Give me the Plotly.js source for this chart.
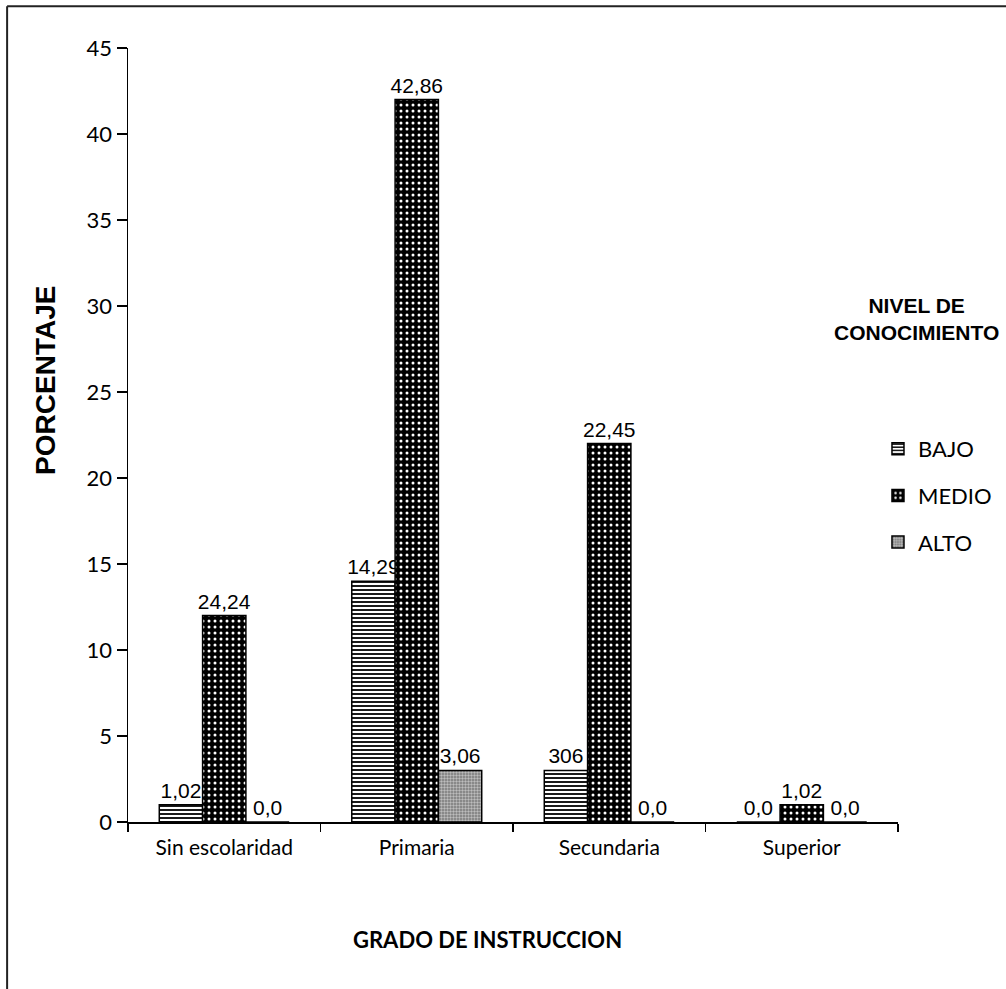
<!DOCTYPE html>
<html>
<head>
<meta charset="utf-8">
<script src="https://cdn.plot.ly/plotly-3.0.1.min.js"></script>
<style>
html,body{margin:0;padding:0;background:#fff;}
#chart{width:1006px;height:989px;}
</style>
</head>
<body>
<div id="chart"></div>
<script>
// Data
const categories = ["Sin escolaridad", "Primaria", "Secundaria", "Superior"];
const seriesNames = ["BAJO", "MEDIO", "ALTO"];
const bajo = [1, 14, 3, 0];
const medio = [12, 42, 22, 1];
const alto = [0, 3, 0, 0];
const bajoLabels = ["1,02", "14,29", "306", "0,0"];
const medioLabels = ["24,24", "42,86", "22,45", "1,02"];
const altoLabels = ["0,0", "3,06", "0,0", "0,0"];
const yTicks = [0, 5, 10, 15, 20, 25, 30, 35, 40, 45];

const labelFont = {family: "Liberation Sans, Arial, sans-serif", size: 21, color: "#000"};

const traces = [
  {
    type: "bar", name: seriesNames[0], x: categories, y: bajo,
    text: bajoLabels, textposition: "outside", textfont: labelFont, constraintext: "none",
    cliponaxis: false, legendgroup: "a",
    marker: {color: "#fff", line: {color: "#000", width: 1.5},
      pattern: {shape: "-", fgcolor: "#000", bgcolor: "#fff", fillmode: "replace", size: 4, solidity: 0.45}}
  },
  {
    type: "bar", name: seriesNames[1], x: categories, y: medio,
    text: medioLabels, textposition: "outside", textfont: labelFont, constraintext: "none",
    cliponaxis: false, legendgroup: "b",
    marker: {color: "#000", line: {color: "#000", width: 1.5},
      pattern: {shape: ".", fgcolor: "#fff", bgcolor: "#000", fillmode: "replace", size: 6, solidity: 0.2}}
  },
  {
    type: "bar", name: seriesNames[2], x: categories, y: alto,
    text: altoLabels, textposition: "outside", textfont: labelFont, constraintext: "none",
    cliponaxis: false, legendgroup: "c",
    marker: {color: "#888", line: {color: "#000", width: 1.5},
      pattern: {shape: ".", fgcolor: "#bdbdbd", bgcolor: "#777", fillmode: "replace", size: 3, solidity: 0.5}}
  }
];

const layout = {
  width: 1006, height: 989,
  margin: {l: 128, r: 108, t: 48, b: 167, autoexpand: false},
  paper_bgcolor: "#fff", plot_bgcolor: "#fff",
  barmode: "group", bargap: 0.325, bargroupgap: 0,
  showlegend: true,
  legend: {
    x: 0.974, xanchor: "left", y: 0.509, yanchor: "top",
    font: {family: "Lato, Open Sans, sans-serif", size: 22, color: "#000"},
    itemwidth: 30, tracegroupgap: 15, bgcolor: "rgba(0,0,0,0)"
  },
  xaxis: {
    type: "category",
    showline: true, linecolor: "#000", linewidth: 1.5,
    ticks: "outside", tickson: "boundaries", ticklen: 8, tickcolor: "#000", tickwidth: 1.5,
    ticklabelstandoff: 6,
    tickfont: {family: "Lato, Open Sans, sans-serif", size: 21, color: "#000"},
    showgrid: false, zeroline: false
  },
  yaxis: {
    range: [0, 45], tickvals: yTicks,
    showline: true, linecolor: "#000", linewidth: 1.5,
    ticks: "outside", ticklen: 10, tickcolor: "#000", tickwidth: 1.5,
    tickfont: {family: "Lato, Open Sans, sans-serif", size: 22, color: "#000"},
    showgrid: false, zeroline: false
  },
  annotations: [
    {text: "<b>PORCENTAJE</b>", xref: "paper", yref: "paper", x: -0.108, y: 0.571,
     xanchor: "center", yanchor: "middle",
     textangle: -90, showarrow: false,
     font: {family: "Liberation Sans, Arial, sans-serif", size: 28, color: "#000"}},
    {text: "<b>GRADO DE INSTRUCCION</b>", xref: "paper", yref: "paper", x: 0.4675, y: -0.172,
     xanchor: "center", showarrow: false, font: {family: "Lato, Open Sans, sans-serif", size: 22, color: "#000"}},
    {text: "<b>NIVEL DE<br>CONOCIMIENTO</b>", xref: "paper", yref: "paper", x: 1.134, y: 0.685,
     xanchor: "right", yanchor: "top", align: "center", showarrow: false,
     font: {family: "Liberation Sans, Arial, sans-serif", size: 21, color: "#000"}}
  ],
  shapes: [
    {type: "line", xref: "paper", yref: "paper", x0: -0.157, x1: -0.157, y0: 1.054, y1: -0.22,
     line: {color: "#222", width: 2}},
    {type: "line", xref: "paper", yref: "paper", x0: -0.157, x1: 1.15, y0: 1.054, y1: 1.054,
     line: {color: "#222", width: 2}}
  ]
};

Plotly.newPlot("chart", traces, layout, {displayModeBar: false, staticPlot: true});
</script>
</body>
</html>
